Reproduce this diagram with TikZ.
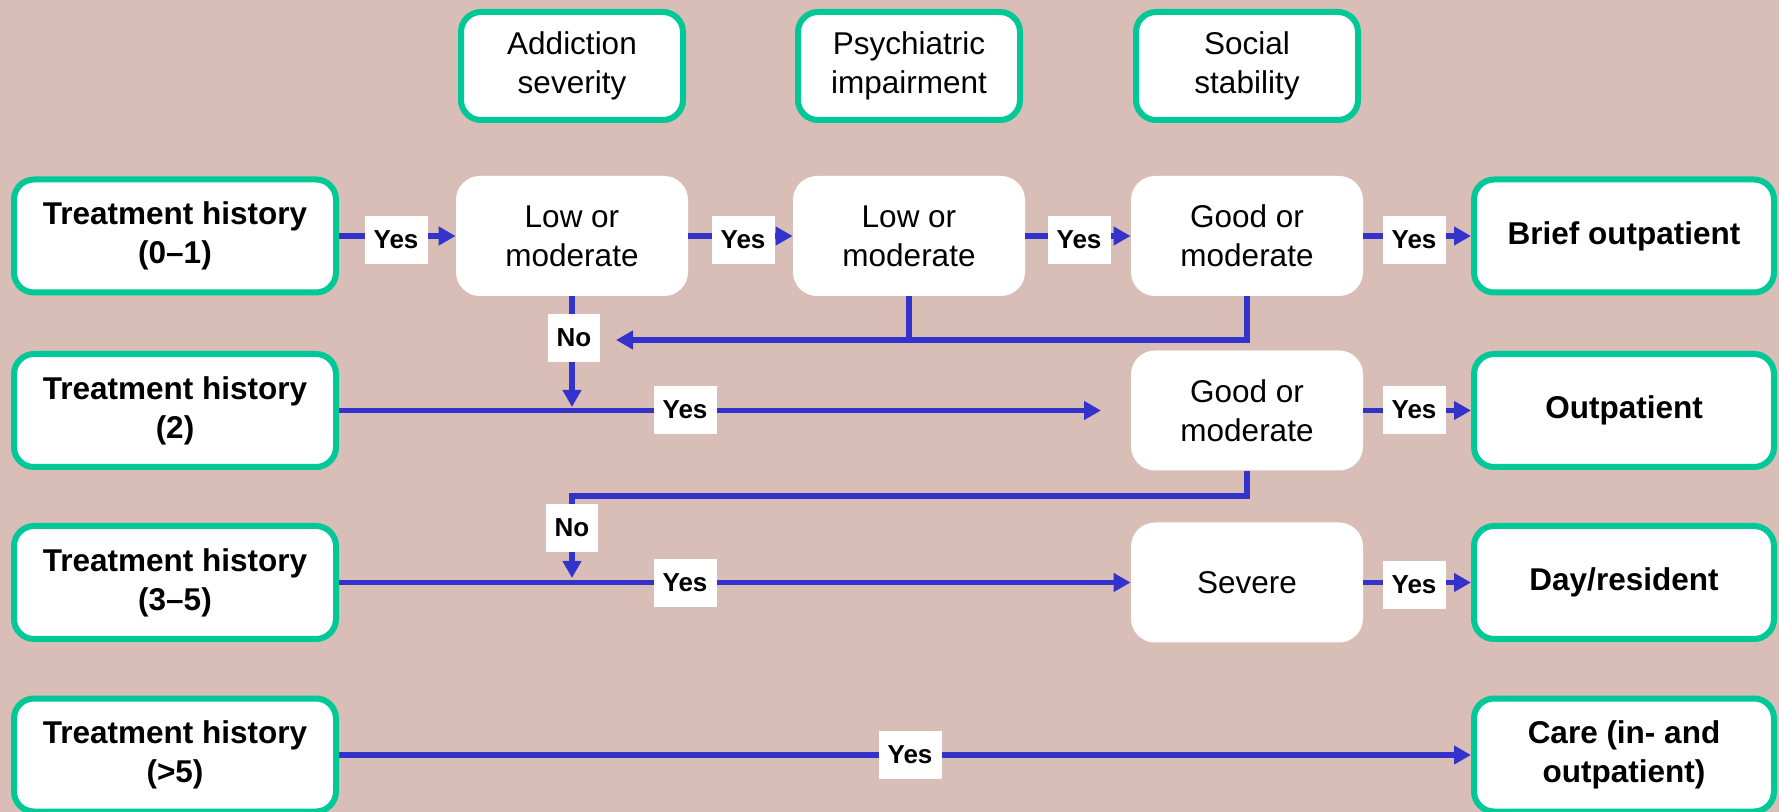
\documentclass[tikz,border=0pt]{standalone}
\usepackage{fontspec}
\setmainfont{Liberation Sans}
\usetikzlibrary{arrows.meta}
\definecolor{bg}{RGB}{217,190,183}
\definecolor{grn}{RGB}{0,200,150}
\definecolor{blu}{RGB}{51,51,204}
\begin{document}
\begin{tikzpicture}[x=0.5pt,y=-0.5pt,
  txt/.style={font=\fontsize{15.75}{19.5}\selectfont, align=center, inner sep=0pt},
  topbox/.style={txt, draw=grn, line width=3pt, fill=white, rounded corners=10pt, minimum width=111pt, minimum height=54pt},
  thbox/.style={txt, font=\bfseries\fontsize{15.75}{19.5}\selectfont, draw=grn, line width=3pt, fill=white, rounded corners=10pt, minimum width=161pt, minimum height=56.5pt},
  outbox/.style={thbox, minimum width=150pt},
  wbox/.style={txt, fill=white, rounded corners=12pt, minimum width=116pt, minimum height=60pt},
  lbl/.style={fill=white, font=\bfseries\fontsize{13}{15}\selectfont, inner sep=0pt, minimum height=24pt, minimum width=31.5pt},
  nolbl/.style={lbl, minimum width=26pt},
  ln/.style={draw=blu, line width=2.8pt},
  arr/.style={ln, -{Triangle[length=8.5pt,width=9pt]}}
]
\fill[bg] (0,0) rectangle (1779,812);
\useasboundingbox (0,0) rectangle (1779,812);

\node[topbox] (add) at (572,66) {Addiction\\severity};
\node[topbox] (psy) at (909,66) {Psychiatric\\impairment};
\node[topbox] (soc) at (1247,66) {Social\\stability};

\node[thbox] (th1) at (175,236) {Treatment history\\(0–1)};
\node[thbox] (th2) at (175,410.5) {Treatment history\\(2)};
\node[thbox] (th3) at (175,582.5) {Treatment history\\(3–5)};
\node[thbox] (th4) at (175,755) {Treatment history\\(>5)};

\node[wbox] (low1) at (572,236) {Low or\\moderate};
\node[wbox] (low2) at (909,236) {Low or\\moderate};
\node[wbox] (good1) at (1247,236) {Good or\\moderate};
\node[wbox] (good2) at (1247,410.5) {Good or\\moderate};
\node[wbox] (sev) at (1247,582.5) {Severe};

\node[outbox] (brief) at (1624,236) {Brief outpatient};
\node[outbox] (outp) at (1624,410.5) {Outpatient};
\node[outbox] (day) at (1624,582.5) {Day/resident};
\node[outbox] (care) at (1624,755) {Care (in- and\\outpatient)};

\draw[arr] (th1) -- (low1);
\draw[arr] (low1) -- (low2);
\draw[arr] (low2) -- (good1);
\draw[arr] (good1) -- (brief);
\coordinate (j2) at (572,407);
\draw[arr] (low1.south) -- (j2);
\coordinate (fb) at (616,340);
\draw[arr] (good1.south) |- (fb);
\draw[ln] (low2.south) -- (low2.south |- fb);
\coordinate (e2) at (1101,410.5);
\draw[arr] (th2) -- (e2);
\draw[arr] (good2) -- (outp);
\coordinate (k) at (572,496);
\coordinate (j3) at (572,578);
\draw[arr] (good2.south) |- (k) -- (j3);
\draw[arr] (th3) -- (sev);
\draw[arr] (sev) -- (day);
\draw[arr] (th4) -- (care);

\node[lbl] (y1) at (396,240) {Yes};
\node[lbl] (y2) at (743,240) {Yes};
\node[lbl] (y3) at (1079,240) {Yes};
\node[lbl] (y4) at (1414,240) {Yes};
\node[nolbl] (n1) at (574,338) {No};
\node[lbl] (y5) at (685,410) {Yes};
\node[lbl] (y6) at (1414,410) {Yes};
\node[nolbl] (n2) at (572,528) {No};
\node[lbl] (y7) at (685,583) {Yes};
\node[lbl] (y8) at (1414,585) {Yes};
\node[lbl] (y9) at (910,755) {Yes};
\end{tikzpicture}
\end{document}
